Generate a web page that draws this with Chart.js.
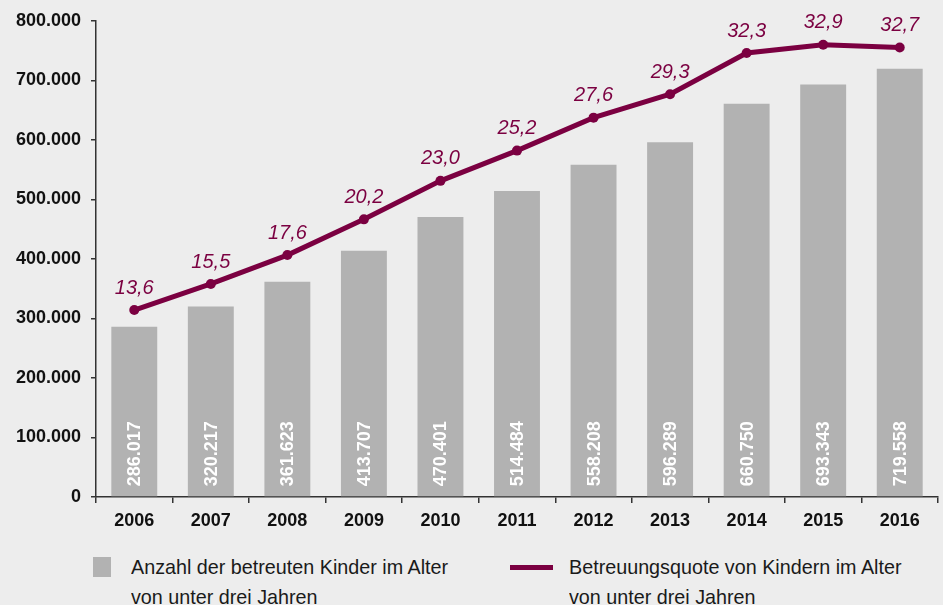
<!DOCTYPE html>
<html>
<head>
<meta charset="utf-8">
<script src="https://cdn.jsdelivr.net/npm/chart.js@4/dist/chart.umd.min.js"></script>
<style>
  html, body { margin:0; padding:0; background:#ededed; overflow:hidden; }
  #wrap { position:relative; width:943px; height:605px; }
  #chart { position:absolute; left:0; top:0; }
  .leg { position:absolute; font-family:'Liberation Sans',sans-serif; font-size:21px; line-height:30px; color:#1a1a1a; white-space:nowrap; transform:scaleX(0.94); transform-origin:0 0; }
  .sw { position:absolute; }
</style>
</head>
<body>
<div id="wrap">
  <canvas id="chart" width="943" height="540"></canvas>
  <div class="sw" style="left:93px;top:557px;width:18px;height:20px;background:#b2b2b2"></div>
  <div class="leg" style="left:131px;top:552px">Anzahl der betreuten Kinder im Alter<br>von unter drei Jahren</div>
  <div class="sw" style="left:510px;top:565px;width:43px;height:5px;background:#7b0041"></div>
  <div class="leg" style="left:569px;top:552px">Betreuungsquote von Kindern im Alter<br>von unter drei Jahren</div>
</div>
<script>
var years = ["2006","2007","2008","2009","2010","2011","2012","2013","2014","2015","2016"];
var kinder = [286017,320217,361623,413707,470401,514484,558208,596289,660750,693343,719558];
var quote = [13.6,15.5,17.6,20.2,23.0,25.2,27.6,29.3,32.3,32.9,32.7];

var barColor = "#b2b2b2";
var lineColor = "#7b0041";

function fmtThousand(n) {
    return String(n).replace(/\B(?=(\d{3})+(?!\d))/g, ".");
}
function fmtDec(n) {
    return n.toFixed(1).replace(".", ",");
}

// value labels: white rotated text inside bars, italic labels above line points
var labelPlugin = {
    id: "labels",
    afterDatasetsDraw: function(chart) {
        var ctx = chart.ctx;
        var bars = chart.getDatasetMeta(0).data;
        ctx.save();
        ctx.fillStyle = "#ffffff";
        ctx.font = "bold 18px 'Liberation Sans', sans-serif";
        ctx.textAlign = "left";
        ctx.textBaseline = "middle";
        bars.forEach(function(b, i) {
            ctx.save();
            ctx.translate(b.x, b.base - 10);
            ctx.rotate(-Math.PI / 2);
            ctx.fillText(fmtThousand(kinder[i]), 0, 1);
            ctx.restore();
        });
        var pts = chart.getDatasetMeta(1).data;
        ctx.fillStyle = lineColor;
        ctx.font = "italic 20px 'Liberation Sans', sans-serif";
        ctx.textAlign = "center";
        ctx.textBaseline = "middle";
        pts.forEach(function(p, i) {
            ctx.fillText(fmtDec(quote[i]), p.x, p.y - 22);
        });
        ctx.restore();
    }
};

new Chart(document.getElementById("chart"), {
    data: {
        labels: years,
        datasets: [{
            type: "bar",
            data: kinder,
            yAxisID: "y",
            backgroundColor: barColor,
            barPercentage: 0.6,
            categoryPercentage: 1,
            order: 1
        }, {
            type: "line",
            data: quote,
            yAxisID: "y1",
            borderColor: lineColor,
            backgroundColor: lineColor,
            borderWidth: 5,
            pointRadius: 5,
            pointBackgroundColor: lineColor,
            pointBorderWidth: 0,
            tension: 0,
            order: 0
        }]
    },
    options: {
        responsive: false,
        animation: false,
        layout: { padding: { top: 21, right: 0, left: 0, bottom: 0 } },
        plugins: { legend: { display: false }, tooltip: { enabled: false } },
        scales: {
            x: {
                grid: { offset: true, drawOnChartArea: false, drawTicks: true, tickLength: 6, color: "#333", lineWidth: 1.5 },
                border: { display: true, color: "#333", width: 1.5 },
                ticks: { color: "#111", padding: 7, font: { family: "'Liberation Sans', sans-serif", size: 18, weight: "bold" } },
                afterFit: function(s) { s.height = 43; }
            },
            y: {
                min: 0, max: 800000,
                ticks: { stepSize: 100000, color: "#111", padding: 10,
                    font: { family: "'Liberation Sans', sans-serif", size: 18, weight: "bold" },
                    callback: function(v) { return fmtThousand(v); } },
                grid: { drawOnChartArea: false, drawTicks: true, tickLength: 5, color: "#333", lineWidth: 1.5 },
                border: { display: true, color: "#333", width: 1.5 },
                afterFit: function(s) { s.width = 96; }
            },
            y1: {
                display: false,
                min: 0, max: 34.63
            }
        }
    },
    plugins: [labelPlugin]
});
</script>
</body>
</html>
